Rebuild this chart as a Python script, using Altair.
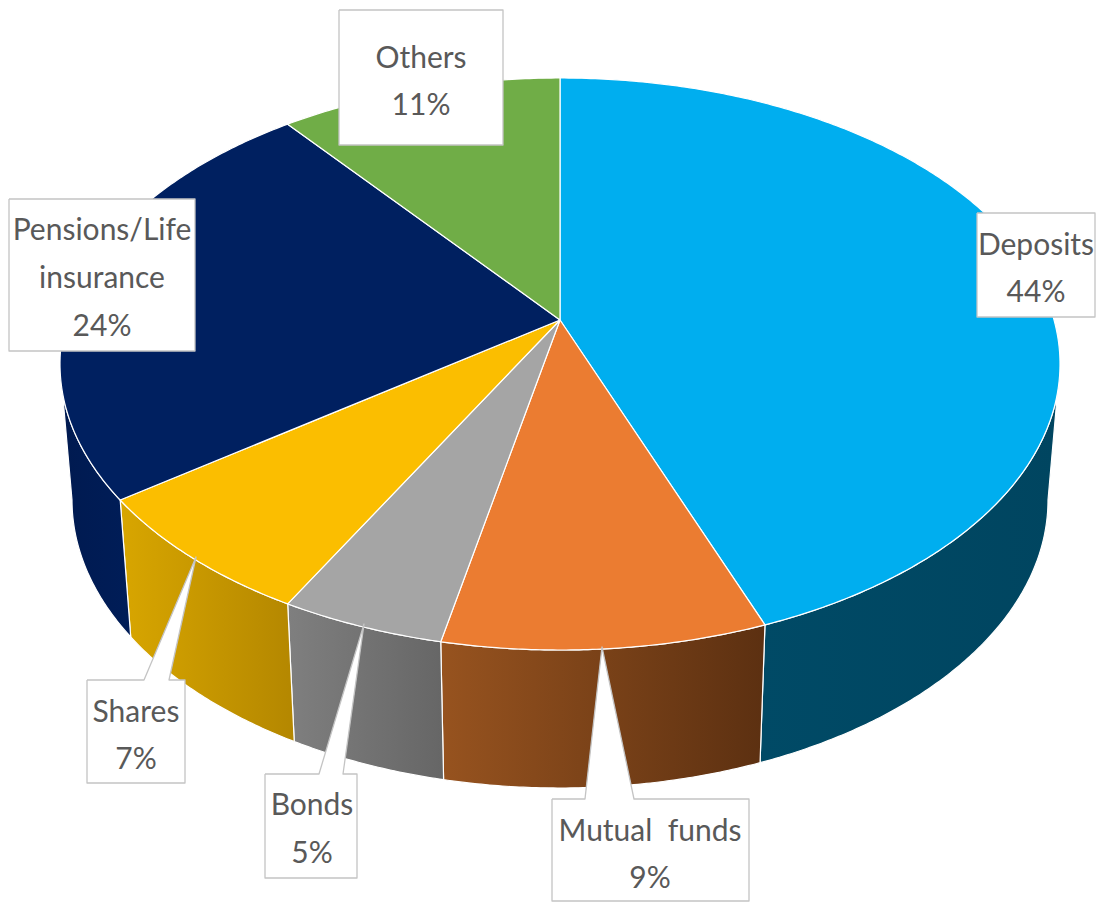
import numpy as np
import pandas as pd
import altair as alt

# Chart values
categories = ["Deposits", "Mutual funds", "Bonds", "Shares", "Pensions/Life insurance", "Others"]
percent_labels = ["44%", "9%", "5%", "7%", "24%", "11%"]
# Slice ends on the drawn rim, degrees clockwise from top
slice_end_deg = [155.8, 193.8, 213.0, 241.6, 327.0, 360.0]
top_colors = ["#00AEEF", "#EB7C31", "#A5A5A5", "#FBBE00", "#002060", "#70AD47"]
side_colors = [
    ("#004A66", "#004560"),
    ("#97531F", "#5C3011"),
    ("#7F7F7F", "#666666"),
    ("#D8A600", "#B48700"),
    ("#001A50", "#001D58"),
    None,
]
label_lines = [["Deposits", "44%"], ["Mutual\u00a0\u00a0funds", "9%"], ["Bonds", "5%"], ["Shares", "7%"],
               ["Pensions/Life", "insurance", "24%"], ["Others", "11%"]]

# Layout of the projected pie (page pixels)
APEX = (560, 320)
TOP = dict(cx=560, cy=364, rx=500, ry=286)
BOT = dict(cx=560, cy=500, rx=488, ry=288)
TEXT_CX = [1036, 650, 312, 136, 102, 421]
TEXT_BASE = [[255, 302], [841, 888], [815, 863], [722, 769], [240, 288, 336], [68, 115]]
BOX = [(977, 1095, 213, 317), (552, 749, 799, 901), (265, 357, 774, 878),
       (87, 185, 680, 783), (9, 195, 199, 351), (339, 503, 10, 145)]
TAIL = [None, (585, 634, 602, 647), (319, 343, 364, 624), (144, 169, 196, 557), None, None]
TEXT_COLOR = "#595959"
FONT = "Lato"

X = alt.X("x:Q", axis=None, scale=alt.Scale(domain=[8, 1096]))
Y = alt.Y("y:Q", axis=None, scale=alt.Scale(domain=[903, 8]))


def rim(e, t0, t1):
    n = max(2, int(abs(t1 - t0)) * 2 + 1)
    t = np.radians(np.linspace(t0, t1, n))
    return list(e["cx"] + e["rx"] * np.sin(t)), list(e["cy"] - e["ry"] * np.cos(t))


def poly(xs, ys, **mark):
    xs = list(xs) + [xs[0]]
    ys = list(ys) + [ys[0]]
    df = pd.DataFrame({"x": xs, "y": ys, "i": range(len(xs))})
    return alt.Chart(df).mark_line(strokeJoin="round", **mark).encode(x=X, y=Y, order=alt.Order("i:Q"))


layers = []
starts = [0.0] + slice_end_deg[:-1]

# Side walls, visible part of the rim only
for a, b, c in zip(starts, slice_end_deg, side_colors):
    if c is None:
        continue
    lo, hi = max(a, 90.0), min(b, 270.0)
    x1, y1 = rim(TOP, lo, hi)
    x2, y2 = rim(BOT, hi, lo)
    fill = alt.LinearGradient(gradient="linear", x1=0, x2=1, y1=0, y2=0,
                              stops=[alt.GradientStop(color=c[0], offset=0),
                                     alt.GradientStop(color=c[1], offset=1)])
    layers.append(poly(x1 + x2, y1 + y2, fill=fill, stroke="white", strokeWidth=1.2))

# Top face
for a, b, c in zip(starts, slice_end_deg, top_colors):
    xs, ys = rim(TOP, a, b)
    layers.append(poly([APEX[0]] + xs, [APEX[1]] + ys, fill=c, stroke="white", strokeWidth=1.2))

# Label boxes with their callout tails
for box, tail in zip(BOX, TAIL):
    x0, x1, y0, y1 = box
    if tail:
        a, b, tx, ty = tail
        xs, ys = [x0, a, tx, b, x1, x1, x0], [y0, y0, ty, y0, y0, y1, y1]
    else:
        xs, ys = [x0, x1, x1, x0], [y0, y0, y1, y1]
    layers.append(poly(xs, ys, fill="white", stroke="#C4C4C4", strokeWidth=1.3))

# Label text
rows = []
for lines, cx, bases in zip(label_lines, TEXT_CX, TEXT_BASE):
    for t, b in zip(lines, bases):
        rows.append({"x": cx, "y": b, "t": t})
layers.append(
    alt.Chart(pd.DataFrame(rows))
    .mark_text(font=FONT, fontSize=30, color=TEXT_COLOR, align="center", baseline="alphabetic")
    .encode(x=X, y=Y, text="t:N")
)

chart = (
    alt.layer(*layers)
    .properties(width=1088, height=895, padding=0, autosize=alt.AutoSizeParams(type="none"),
                background="white")
    .configure_view(stroke=None)
)
chart.save("out.html", embed_options={"renderer": "svg", "actions": False})
